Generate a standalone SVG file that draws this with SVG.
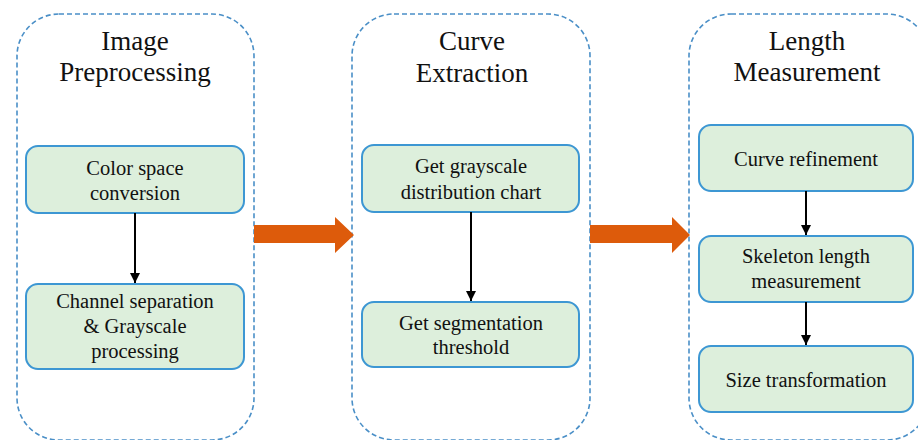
<svg xmlns="http://www.w3.org/2000/svg" width="918" height="440" viewBox="0 0 918 440">
<defs>
<style>
.panel{fill:#ffffff;stroke:#4a8fc7;stroke-width:1.6;stroke-dasharray:5 3}
.node{fill:#ddefdc;stroke:#3d97d3;stroke-width:2}
.conn{stroke:#000;stroke-width:2;fill:none;marker-end:url(#ah)}
.big{fill:#dd5b0b}
</style>
<marker id="ah" viewBox="0 0 10 10" refX="10" refY="5" markerWidth="5" markerHeight="5" orient="auto" markerUnits="strokeWidth">
<path d="M0,0 L10,5 L0,10 z" fill="#000"/>
</marker>
</defs>
<rect width="918" height="440" fill="#ffffff"/>

<g id="panel-preprocessing">
<rect class="panel" x="17" y="14" width="237" height="426" rx="42" ry="42"/>
<text font-family="Liberation Serif" font-size="27" fill="#111" text-anchor="middle" x="135" y="50">Image</text>
<text font-family="Liberation Serif" font-size="27" fill="#111" text-anchor="middle" x="135" y="81">Preprocessing</text>
</g>
<g id="panel-extraction">
<rect class="panel" x="352" y="14" width="238" height="426" rx="42" ry="42"/>
<text font-family="Liberation Serif" font-size="27" fill="#111" text-anchor="middle" x="472" y="50">Curve</text>
<text font-family="Liberation Serif" font-size="27" fill="#111" text-anchor="middle" x="472" y="82">Extraction</text>
</g>
<g id="panel-measurement">
<rect class="panel" x="689" y="14" width="240" height="426" rx="42" ry="42"/>
<text font-family="Liberation Serif" font-size="27" fill="#111" text-anchor="middle" x="807" y="50">Length</text>
<text font-family="Liberation Serif" font-size="27" fill="#111" text-anchor="middle" x="807" y="81">Measurement</text>
</g>

<g id="node-color">
<rect class="node" x="26" y="146" width="218" height="67" rx="12"/>
<text font-family="Liberation Serif" font-size="20.5" fill="#111" text-anchor="middle" x="135" y="175">Color space</text>
<text font-family="Liberation Serif" font-size="20.5" fill="#111" text-anchor="middle" x="135" y="200">conversion</text>
</g>
<g id="node-channel">
<rect class="node" x="26" y="284" width="218" height="85" rx="12"/>
<text font-family="Liberation Serif" font-size="20.5" fill="#111" text-anchor="middle" x="135" y="308">Channel separation</text>
<text font-family="Liberation Serif" font-size="20.5" fill="#111" text-anchor="middle" x="135" y="333">&amp; Grayscale</text>
<text font-family="Liberation Serif" font-size="20.5" fill="#111" text-anchor="middle" x="135" y="358">processing</text>
</g>
<g id="node-distribution">
<rect class="node" x="362" y="145" width="217" height="67" rx="12"/>
<text font-family="Liberation Serif" font-size="20.5" fill="#111" text-anchor="middle" x="471" y="173">Get grayscale</text>
<text font-family="Liberation Serif" font-size="20.5" fill="#111" text-anchor="middle" x="471" y="199">distribution chart</text>
</g>
<g id="node-threshold">
<rect class="node" x="362" y="302" width="217" height="65" rx="12"/>
<text font-family="Liberation Serif" font-size="20.5" fill="#111" text-anchor="middle" x="471" y="330">Get segmentation</text>
<text font-family="Liberation Serif" font-size="20.5" fill="#111" text-anchor="middle" x="471" y="354">threshold</text>
</g>
<g id="node-refinement">
<rect class="node" x="699" y="125" width="214" height="66" rx="12"/>
<text font-family="Liberation Serif" font-size="20.5" fill="#111" text-anchor="middle" x="806" y="166">Curve refinement</text>
</g>
<g id="node-skeleton">
<rect class="node" x="699" y="236" width="214" height="66" rx="12"/>
<text font-family="Liberation Serif" font-size="20.5" fill="#111" text-anchor="middle" x="806" y="263">Skeleton length</text>
<text font-family="Liberation Serif" font-size="20.5" fill="#111" text-anchor="middle" x="806" y="288">measurement</text>
</g>
<g id="node-size">
<rect class="node" x="699" y="346" width="214" height="66" rx="12"/>
<text font-family="Liberation Serif" font-size="20.5" fill="#111" text-anchor="middle" x="806" y="387">Size transformation</text>
</g>

<g id="connectors">
<line class="conn" x1="135" y1="213" x2="135" y2="283"/>
<line class="conn" x1="471" y1="212" x2="471" y2="301"/>
<line class="conn" x1="806" y1="191" x2="806" y2="235"/>
<line class="conn" x1="806" y1="302" x2="806" y2="345"/>
<polygon class="big" points="254,225 335,225 335,217 354,235 335,253 335,243 254,243"/>
<polygon class="big" points="590,225 672,225 672,217 690,235 672,253 672,243 590,243"/>
</g>
</svg>
